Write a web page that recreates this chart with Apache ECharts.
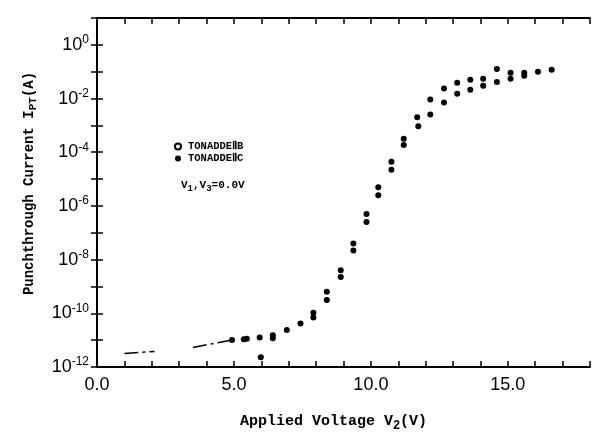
<!DOCTYPE html>
<html>
<head>
<meta charset="utf-8">
<script src="https://cdn.jsdelivr.net/npm/echarts@6/dist/echarts.min.js"></script>
<style>
html, body { margin: 0; padding: 0; background: #fff; }
#chart { width: 595px; height: 437px; }
</style>
</head>
<body>
<div id="chart"></div>
<script>
// 读自原图：电压 V2 (V) 与 log10(I_PT / A)
const voltageB = [4.93, 5.47, 5.94, 6.42, 6.93, 7.43, 7.9, 8.39, 8.9, 9.36, 9.84, 10.27, 10.75, 11.2, 11.69, 12.17, 12.67, 13.15, 13.63, 14.1, 14.6, 15.1, 15.6, 16.1, 16.6];
const logCurrentB = [-10.99, -10.95, -10.9, -10.82, -10.62, -10.38, -9.98, -9.2, -8.4, -7.4, -6.3, -5.3, -4.35, -3.5, -2.7, -2.04, -1.63, -1.41, -1.3, -1.26, -0.9, -1.04, -1.04, -1.0, -0.93];

const voltageC = [5.36, 5.98, 6.42, 7.9, 8.39, 8.9, 9.36, 9.84, 10.27, 10.75, 11.2, 11.73, 12.17, 12.67, 13.15, 13.63, 14.1, 14.6, 15.1, 15.6];
const logCurrentC = [-10.97, -11.64, -10.93, -10.16, -9.5, -8.65, -7.66, -6.6, -5.6, -4.65, -3.73, -3.03, -2.59, -2.15, -1.82, -1.67, -1.52, -1.38, -1.26, -1.15];

// 低压段的点划线 (null = 断开)
const lineVoltage = [1.0, 2.1, 2.8, 3.5, 4.93];
const lineLogCurrent = [-11.5, -11.42, null, -11.27, -11.0];

const xLabelValues = [0, 5, 10, 15];
const yLabelExponents = [0, -2, -4, -6, -8, -10, -12];

const seriesNames = ['TONADDEⅡB', 'TONADDEⅡC'];

const toPairs = (xs, exps) => xs.map((x, i) => [x, exps[i] === null ? '-' : Math.pow(10, exps[i])]);

const MONO = '"Liberation Mono", "DejaVu Sans Mono", monospace';
const SANS = '"Liberation Sans", Arial, sans-serif';

const chart = echarts.init(document.getElementById('chart'));

const tickStyle = { inside: true, length: 6, lineStyle: { color: '#000', width: 1.5 } };
const lineStyle = { show: true, lineStyle: { color: '#000', width: 2 } };

const option = {
  animation: false,
  backgroundColor: '#fff',
  grid: { left: 97, right: 5, top: 18, bottom: 64 },
  title: {
    text: '{t|V}{s|1}{t|,V}{s|3}{t|=0.0V}',
    left: 176,
    top: 172,
    textStyle: {
      rich: {
        t: { fontFamily: MONO, fontWeight: 'bold', fontSize: 11, color: '#000' },
        s: { fontFamily: MONO, fontWeight: 'bold', fontSize: 9, color: '#000', padding: [7, 0, 0, 0] }
      }
    }
  },
  legend: {
    orient: 'vertical',
    left: 169,
    top: 136,
    itemWidth: 6,
    itemHeight: 6,
    itemGap: 1,
    data: [
      { name: seriesNames[0], icon: 'emptyCircle' },
      { name: seriesNames[1], icon: 'circle' }
    ],
    textStyle: { fontFamily: MONO, fontWeight: 'bold', fontSize: 10.5, color: '#000', padding: [0, 0, 0, 2] }
  },
  xAxis: [
    {
      type: 'value',
      min: 0,
      max: 18,
      interval: 1,
      position: 'bottom',
      axisLine: lineStyle,
      axisTick: tickStyle,
      splitLine: { show: false },
      axisLabel: {
        color: '#000',
        fontFamily: SANS,
        fontSize: 18,
        margin: 9,
        formatter: (v) => xLabelValues.includes(v) ? v.toFixed(1) : ''
      },
      name: '{t|Applied Voltage V}{s|2}{t|(V)}',
      nameLocation: 'middle',
      nameGap: 44,
      nameTextStyle: {
        padding: [0, 20, 0, 0],
        rich: {
          t: { fontFamily: MONO, fontWeight: 'bold', fontSize: 15, color: '#000' },
          s: { fontFamily: MONO, fontWeight: 'bold', fontSize: 12, color: '#000', padding: [9, 0, 0, 0] }
        }
      }
    },
    {
      type: 'value',
      min: 0,
      max: 18,
      interval: 1,
      position: 'top',
      axisLine: lineStyle,
      axisTick: tickStyle,
      splitLine: { show: false },
      axisLabel: { show: false }
    }
  ],
  yAxis: [
    {
      type: 'log',
      logBase: 10,
      min: 1e-12,
      max: 10,
      interval: 1,
      position: 'left',
      axisLine: lineStyle,
      axisTick: tickStyle,
      minorTick: { show: false },
      splitLine: { show: false },
      axisLabel: {
        margin: 8,
        formatter: (v) => {
          const e = Math.round(Math.log10(v));
          return yLabelExponents.includes(e) ? '{b|10}{s|' + e + '}' : '';
        },
        rich: {
          b: { fontFamily: SANS, fontSize: 18, color: '#000' },
          s: { fontFamily: SANS, fontSize: 12, color: '#000', padding: [0, 0, 10, 0] }
        }
      },
      name: '{t|Punchthrough Current I}{s|PT}{t|(A)}',
      nameLocation: 'middle',
      nameRotate: 90,
      nameGap: 58,
      nameTextStyle: {
        padding: [0, 0, 0, 18],
        rich: {
          t: { fontFamily: MONO, fontWeight: 'bold', fontSize: 14, color: '#000' },
          s: { fontFamily: MONO, fontWeight: 'bold', fontSize: 11, color: '#000', padding: [8, 0, 0, 0] }
        }
      }
    },
    {
      type: 'log',
      logBase: 10,
      min: 1e-12,
      max: 10,
      interval: 1,
      position: 'right',
      axisLine: lineStyle,
      axisTick: tickStyle,
      minorTick: { show: false },
      splitLine: { show: false },
      axisLabel: { show: false }
    }
  ],
  series: [
    {
      name: seriesNames[0],
      type: 'scatter',
      symbol: 'circle',
      symbolSize: 6,
      itemStyle: { color: '#000', opacity: 1 },
      data: toPairs(voltageB, logCurrentB)
    },
    {
      name: seriesNames[1],
      type: 'scatter',
      symbol: 'circle',
      symbolSize: 6,
      itemStyle: { color: '#000', opacity: 1 },
      data: toPairs(voltageC, logCurrentC)
    },
    {
      name: 'fit',
      type: 'line',
      symbol: 'none',
      connectNulls: false,
      lineStyle: { color: '#000', width: 1.5, type: [14, 4, 3, 4] },
      data: toPairs(lineVoltage, lineLogCurrent)
    }
  ]
};

chart.setOption(option);
</script>
</body>
</html>
